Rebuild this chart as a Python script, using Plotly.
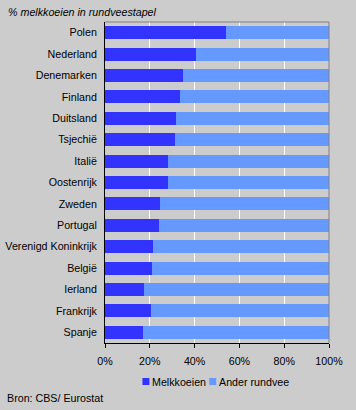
import plotly.graph_objects as go

countries = ["Polen", "Nederland", "Denemarken", "Finland", "Duitsland", "Tsjechië", "Italië",
             "Oostenrijk", "Zweden", "Portugal", "Verenigd Koninkrijk", "België", "Ierland",
             "Frankrijk", "Spanje"]
melkkoeien = [54.1, 40.8, 35.0, 33.6, 31.8, 31.4, 28.3, 28.3, 24.7, 24.3, 21.6, 21.2, 17.6, 20.7, 17.1]
ander = [100 - v for v in melkkoeien]
series_names = ["Melkkoeien", "Ander rundvee"]
series_colors = ["#3333FF", "#6699FF"]
tick_vals = [0, 20, 40, 60, 80, 100]
tick_text = ["0%", "20%", "40%", "60%", "80%", "100%"]

W, H = 356, 410
l, r, t, b = 104.5, 27, 22, 67
pw, ph = W - l - r, H - t - b
def px(x): return (x - l) / pw
def py(y): return (H - b - y) / ph

font = "Liberation Sans, Arial, sans-serif"
fs = 10.7
fig = go.Figure()
for name, vals, col in zip(series_names, [melkkoeien, ander], series_colors):
    fig.add_trace(go.Bar(y=countries, x=vals, orientation="h", name=name,
                         marker=dict(color=col, line=dict(width=0)), showlegend=False))

# manual legend (square + label)
legend_items = [(142, 152), (209, 219)]
shapes = [
    dict(type="line", xref="paper", yref="paper", x0=0, x1=1, y0=1, y1=1,
         line=dict(color="#808080", width=1)),
    dict(type="line", xref="paper", yref="paper", x0=1, x1=1, y0=0, y1=1,
         line=dict(color="#808080", width=1)),
]
annotations = [
    dict(text="<i>% melkkoeien in rundveestapel</i>", x=px(5), y=py(12), xref="paper",
         yref="paper", showarrow=False, xanchor="left", yanchor="middle", font=dict(size=fs)),
    dict(text="Bron: CBS/ Eurostat", x=px(4), y=py(398), xref="paper", yref="paper",
         showarrow=False, xanchor="left", yanchor="middle", font=dict(size=fs)),
]
for (sx, tx), name, col in zip(legend_items, series_names, series_colors):
    shapes.append(dict(type="rect", xref="paper", yref="paper", x0=px(sx), x1=px(sx + 7),
                       y0=py(378), y1=py(385), fillcolor=col, line=dict(width=0)))
    annotations.append(dict(text=name, x=px(tx - 2), y=py(381.5), xref="paper", yref="paper",
                            showarrow=False, xanchor="left", yanchor="middle",
                            font=dict(size=fs)))

fig.update_layout(
    width=W, height=H, barmode="stack", bargap=0.4,
    paper_bgcolor="#CCCCCC", plot_bgcolor="#CCCCCC",
    margin=dict(l=l, r=r, t=t, b=b, autoexpand=False),
    font=dict(family=font, size=fs, color="#000000"),
    showlegend=False,
    xaxis=dict(range=[0, 100], tickvals=tick_vals, ticktext=tick_text,
               showgrid=True, gridcolor="#FFFFFF", gridwidth=1,
               ticks="outside", ticklen=4, tickcolor="#000000",
               showline=True, linecolor="#000000", linewidth=1, mirror=False,
               zeroline=False, fixedrange=True, automargin=False, ticklabelstandoff=4),
    yaxis=dict(autorange="reversed", showgrid=False, ticks="", showline=True,
               linecolor="#000000", linewidth=1, ticklabelstandoff=5, fixedrange=True,
               automargin=False),
    annotations=annotations,
    shapes=shapes,
)
fig.write_html("out.html", config={"displayModeBar": False},
               post_script="document.body.style.margin='0px';")
